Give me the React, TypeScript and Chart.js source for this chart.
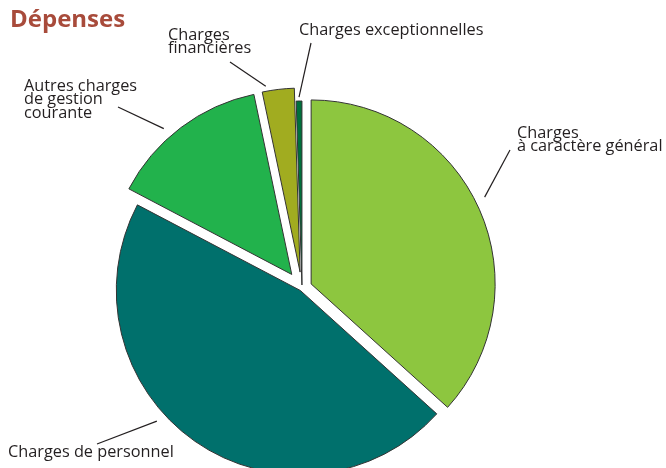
import React, { useEffect, useRef } from "react";
import { Chart, registerables } from "chart.js";

Chart.register(...registerables);

// ---- data ----
const categories = [
  "Charges à caractère général",
  "Charges de personnel",
  "Autres charges de gestion courante",
  "Charges financières",
  "Charges exceptionnelles",
];
const values = [36.7, 46.0, 14.0, 2.8, 0.5];
const labelLines = [
  ["Charges", "à caractère général"],
  ["Charges de personnel"],
  ["Autres charges", "de gestion", "courante"],
  ["Charges", "financières"],
  ["Charges exceptionnelles"],
];
const titleText = "Dépenses";

// ---- styles ----
const colors = ["#8dc63f", "#00706c", "#22b24c", "#a1ac20", "#00703c"];
const explode = [10, 3, 17, 16, 3];
// label placement: text anchor (left, first baseline), leader outer end, leader position in slice (fraction) and gap
const labelStyle = [
  { tx: 517, ty: 138, ox: 510, oy: 150, frac: 0.48, gap: 10 },
  { tx: 8, ty: 457, ox: 97, oy: 444, frac: 0.577, gap: 10 },
  { tx: 24, ty: 91, ox: 118, oy: 107, frac: 0.417, gap: 10 },
  { tx: 168, ty: 40, ox: 230, oy: 62, frac: 0.14, gap: 5 },
  { tx: 299, ty: 35, ox: 311, oy: 43, frac: 0.5, gap: 4 },
];
const LINE_H = 13.3;

const explodePlugin = {
  id: "explodeSlices",
  afterDatasetUpdate(chart: any, args: any) {
    const meta = chart.getDatasetMeta(args.index);
    meta.data.forEach((el: any, i: number) => {
      const half = (el.startAngle + el.endAngle) / 2;
      const t = explode[i] || 0;
      el.x += t * Math.cos(half);
      el.y += t * Math.sin(half);
    });
  },
};

const labelsPlugin = {
  id: "pieLabels",
  afterDraw(chart: any) {
    const ctx = chart.ctx;
    const meta = chart.getDatasetMeta(0);
    ctx.save();
    // title
    ctx.font = "bold 24px 'Open Sans', sans-serif";
    ctx.fillStyle = "#a84b3b";
    ctx.textBaseline = "alphabetic";
    ctx.textAlign = "left";
    ctx.fillText(titleText, 10, 27);

    ctx.font = "16.3px 'Open Sans', sans-serif";
    ctx.fillStyle = "#231f20";
    ctx.strokeStyle = "#231f20";
    ctx.lineWidth = 1.2;
    meta.data.forEach((el: any, i: number) => {
      const s = labelStyle[i];
      const a = el.startAngle + (el.endAngle - el.startAngle) * s.frac;
      const r = el.outerRadius + s.gap;
      const ix = el.x + r * Math.cos(a);
      const iy = el.y + r * Math.sin(a);
      ctx.beginPath();
      ctx.moveTo(s.ox, s.oy);
      ctx.lineTo(ix, iy);
      ctx.stroke();
      labelLines[i].forEach((line, k) => {
        ctx.fillText(line, s.tx, s.ty + k * LINE_H);
      });
    });
    ctx.restore();
  },
};

export default function App() {
  const ref = useRef<HTMLCanvasElement | null>(null);
  useEffect(() => {
    if (!ref.current) return;
    const chart = new Chart(ref.current, {
      type: "pie",
      data: {
        labels: categories,
        datasets: [
          {
            data: values,
            backgroundColor: colors,
            borderColor: "#333333",
            borderWidth: 1,
            borderJoinStyle: "miter",
          } as any,
        ],
      },
      options: {
        responsive: false,
        animation: false,
        devicePixelRatio: 1,
        events: [],
        radius: 184,
        layout: { padding: { left: 0, right: 62, top: 0, bottom: 0 } },
        plugins: {
          legend: { display: false },
          tooltip: { enabled: false },
          title: { display: false },
        },
      } as any,
      plugins: [explodePlugin, labelsPlugin],
    });
    return () => chart.destroy();
  }, []);
  return (
    <div
      style={{
        position: "fixed",
        left: 0,
        top: 0,
        width: 666,
        height: 468,
        overflow: "hidden",
        background: "#ffffff",
      }}
    >
      <canvas ref={ref} width={666} height={576} style={{ width: 666, height: 576, display: "block" }} />
    </div>
  );
}
